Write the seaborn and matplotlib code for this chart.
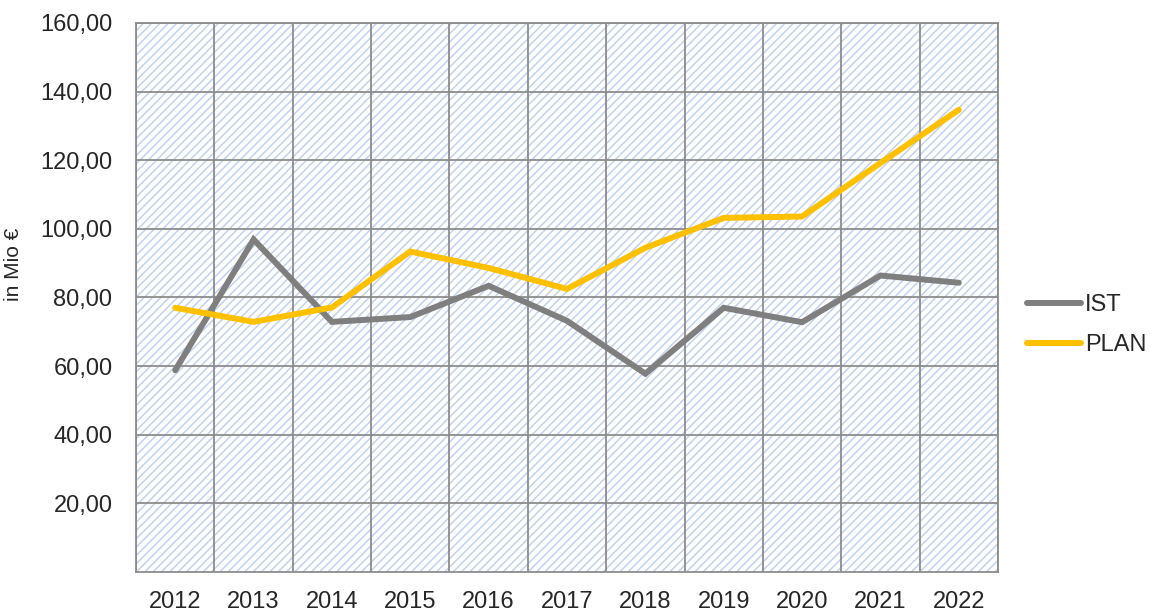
import matplotlib
matplotlib.use("Agg")
import matplotlib.pyplot as plt
import matplotlib.ticker as mticker
from matplotlib.patches import Rectangle
import seaborn as sns
import pandas as pd
import numpy as np

# =========================
# DATA
# =========================
years = [2012, 2013, 2014, 2015, 2016, 2017, 2018, 2019, 2020, 2021, 2022]
ist = [58.8, 96.9, 72.9, 74.3, 83.4, 73.2, 57.8, 77.0, 72.8, 86.4, 84.3]
plan = [77.0, 72.9, 77.1, 93.4, 88.6, 82.5, 94.5, 103.2, 103.6, 119.2, 134.7]
series_names = ["IST", "PLAN"]
y_ticks = [20, 40, 60, 80, 100, 120, 140, 160]

df = pd.DataFrame({
    "Jahr": years * 2,
    "Wert": ist + plan,
    "Serie": [series_names[0]] * len(years) + [series_names[1]] * len(years),
})

# =========================
# STYLE
# =========================
sns.set_theme(style="white")
plt.rcParams["font.family"] = ["Liberation Sans", "DejaVu Sans"]
plt.rcParams["hatch.linewidth"] = 1.1

grid_col = "#8c8c8c"
palette = {"IST": "#7f7f7f", "PLAN": "#ffc000"}

fig = plt.figure(figsize=(11.5, 6.16), dpi=100)
ax = fig.add_axes([0.1183, 0.0714, 0.7495, 0.8913])

# hatched background
ax.add_patch(Rectangle((0, 0), 1, 1, transform=ax.transAxes,
                       facecolor="white", edgecolor="#c2d2ec",
                       hatch="////", lw=0, zorder=0))

sns.lineplot(data=df, x="Jahr", y="Wert", hue="Serie", palette=palette,
             linewidth=4.3, ax=ax, zorder=3, legend=True)
for line in ax.lines:
    line.set_solid_capstyle("round")
    line.set_solid_joinstyle("miter")

ax.set_xlim(years[0] - 0.5, years[-1] + 0.5)
ax.set_ylim(0, 160)
ax.set_xticks(years)
ax.set_xticklabels([str(y) for y in years], fontsize=17)
ax.set_xticks(np.arange(years[0] - 0.5, years[-1] + 1), minor=True)
ax.set_yticks(y_ticks)
ax.yaxis.set_major_formatter(mticker.FuncFormatter(
    lambda v, p: f"{v:.2f}".replace(".", ",")))
ax.tick_params(axis="y", labelsize=17, length=0, pad=17)
ax.tick_params(axis="x", which="both", length=0, pad=14)

ax.grid(False)
ax.grid(axis="y", which="major", color=grid_col, lw=1.3, zorder=1)
ax.grid(axis="x", which="minor", color=grid_col, lw=1.3, zorder=1)
ax.set_axisbelow(True)
for s in ax.spines.values():
    s.set_color(grid_col)
    s.set_linewidth(1.3)

ax.set_xlabel("")
ax.set_ylabel("in Mio €", fontsize=15)
ax.yaxis.set_label_coords(-0.131, 0.56)

handles, labels = ax.get_legend_handles_labels()
for h in handles:
    h.set_linewidth(4.3)
    h.set_solid_capstyle("round")
ax.legend(handles, labels, loc="center left", bbox_to_anchor=(1.0336, 0.45),
          frameon=False, fontsize=17, handlelength=2.3, handletextpad=0.16,
          labelspacing=0.75, borderpad=0, borderaxespad=0)

fig.savefig("out.png", dpi=100)
